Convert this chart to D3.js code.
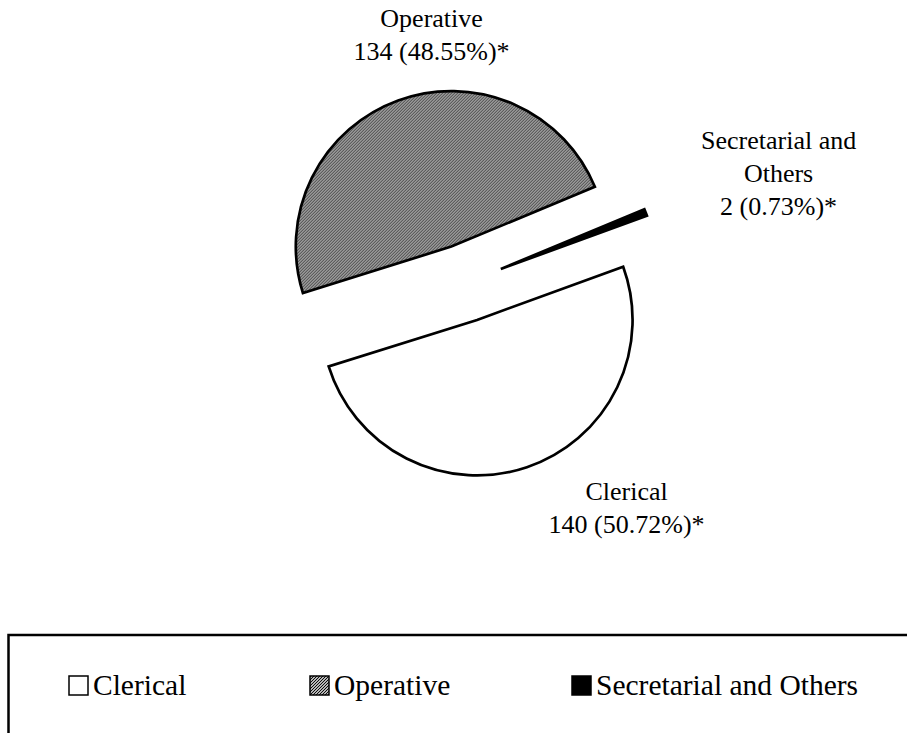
<!DOCTYPE html>
<html>
<head>
<meta charset="utf-8">
<script src="https://cdn.jsdelivr.net/npm/d3@7"></script>
<style>
  body { margin: 0; background: #fff; }
  svg { display: block; }
  svg text { font-family: 'Liberation Serif', 'DejaVu Serif', 'Times New Roman', serif; }
</style>
</head>
<body>
<div id="chart"></div>
<script>
// ---- data ----
var categories = ['Clerical', 'Operative', 'Secretarial and Others'];
var counts = [140, 134, 2];
var percentLabels = ['50.72%', '48.55%', '0.73%'];
// data label name lines (long name wraps)
var labelNames = [['Clerical'], ['Operative'], ['Secretarial and', 'Others']];

// ---- layout ----
var W = 907, H = 733;
var cx = 464.6, cy = 283.1, R = 155.5;
var explode = 0.25 * R;           // 25% slice explosion
var startDeg = 70;                // angle of first slice

// label anchor offsets from pie centre (first baseline)
var labelOffsets = [[162, 217], [-33, -256], [314, -134]];
var labelLineH = 33;

var svg = d3.select('#chart')
  .append('svg')
  .attr('width', W).attr('height', H);

// diagonal hatch for "Operative"
var defs = svg.append('defs');
var pat = defs.append('pattern')
  .attr('id', 'hatch')
  .attr('patternUnits', 'userSpaceOnUse')
  .attr('width', 3).attr('height', 3);
pat.append('rect').attr('width', 3).attr('height', 3).attr('fill', '#fff');
pat.append('path')
  .attr('d', 'M-1,1 l2,-2 M0,3 l3,-3 M2,4 l2,-2')
  .attr('stroke', '#000')
  .attr('stroke-width', 1.1);

var fills = ['#ffffff', 'url(#hatch)', '#000000'];

// ---- pie ----
var start = startDeg * Math.PI / 180;
var pie = d3.pie().sort(null).startAngle(start).endAngle(start + 2 * Math.PI);
var arcs = pie(counts);
var arc = d3.arc().innerRadius(0).outerRadius(R);

arcs.forEach(function(a, i) {
  var mid = (a.startAngle + a.endAngle) / 2;
  var dx = explode * Math.sin(mid), dy = -explode * Math.cos(mid);
  svg.append('path')
    .attr('d', arc(a))
    .attr('transform', 'translate(' + (cx + dx) + ',' + (cy + dy) + ')')
    .attr('fill', fills[i])
    .attr('stroke', '#000')
    .attr('stroke-width', 2.7)
    .attr('stroke-linejoin', 'miter');
});

// ---- data labels ----
categories.forEach(function(c, i) {
  var lines = labelNames[i].concat([counts[i] + ' (' + percentLabels[i] + ')*']);
  var t = svg.append('text')
    .attr('x', cx + labelOffsets[i][0])
    .attr('y', cy + labelOffsets[i][1])
    .attr('text-anchor', 'middle')
    .style('font-size', '26px')
    .attr('fill', '#000');
  lines.forEach(function(l, j) {
    t.append('tspan')
      .attr('x', cx + labelOffsets[i][0])
      .attr('dy', j === 0 ? 0 : labelLineH)
      .text(l);
  });
});

// ---- legend (box runs off the right and bottom edges) ----
var legTop = 635;
svg.append('rect')
  .attr('x', 8.5).attr('y', legTop)
  .attr('width', 1000).attr('height', 200)
  .attr('fill', 'none')
  .attr('stroke', '#000')
  .attr('stroke-width', 2.5);

var legX = [69, 310, 572];
var legBase = 695, sw = 19;
categories.forEach(function(c, i) {
  svg.append('rect')
    .attr('x', legX[i]).attr('y', legBase - sw)
    .attr('width', sw).attr('height', sw)
    .attr('fill', fills[i])
    .attr('stroke', '#000')
    .attr('stroke-width', 1.5);
  svg.append('text')
    .attr('x', legX[i] + sw + 5)
    .attr('y', legBase)
    .style('font-size', '29.5px')
    .attr('fill', '#000')
    .text(c);
});
</script>
</body>
</html>
